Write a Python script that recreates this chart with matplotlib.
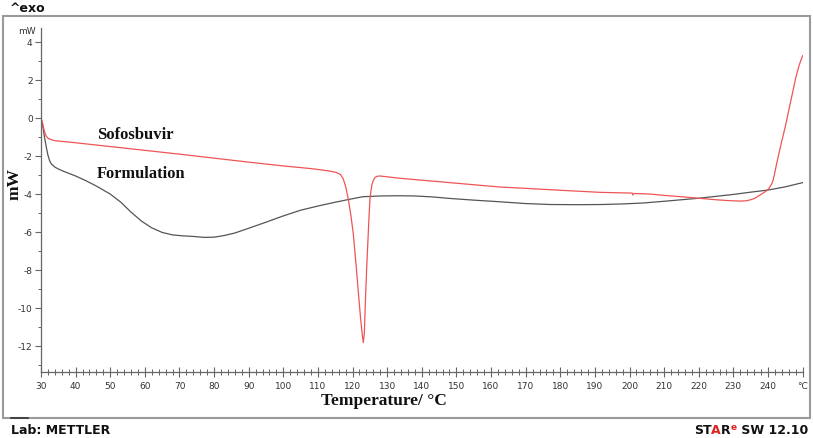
import matplotlib
matplotlib.use("Agg")
import matplotlib.pyplot as plt
from matplotlib.patches import Rectangle
from matplotlib.lines import Line2D
from matplotlib.ticker import MultipleLocator, FixedLocator, FixedFormatter

plt.rcParams['axes.unicode_minus'] = False

# ---- data ----
sofos_T = [30.0, 30.5, 31.0, 31.5, 32.0, 33.0, 34.0, 40, 50, 60, 70, 80, 90, 100, 108,
           111, 113, 114.5, 115.5, 116.5, 117.3, 118.0, 118.8, 119.5, 120.2, 121.0, 121.7,
           122.3, 122.8, 123.1, 123.4, 123.8, 124.1, 124.4, 124.7, 125.0, 125.3, 125.6,
           126.0, 126.5, 127.2, 128.0, 133.7, 140, 150, 162.6, 170, 180, 191.5, 200.8,
           201.0, 201.3, 205.9, 210, 215, 220.5, 225, 229, 232, 234, 236, 238, 239, 240,
           241, 241.5, 242, 242.5, 243, 243.5, 244, 245, 246, 247, 248, 249, 250]
sofos_v = [0.0, -0.3, -0.72, -0.95, -1.06, -1.14, -1.19, -1.3, -1.5, -1.7, -1.9, -2.11, -2.32,
           -2.52, -2.66, -2.73, -2.78, -2.83, -2.88, -2.97, -3.2, -3.6, -4.3, -5.1, -6.07,
           -7.7, -9.23, -10.5, -11.4, -11.82, -11.3, -9.2, -7.8, -6.6, -5.4, -4.3, -3.85,
           -3.5, -3.28, -3.12, -3.06, -3.05, -3.17, -3.27, -3.43, -3.63, -3.7, -3.8, -3.91,
           -3.95, -4.05, -3.97, -4.0, -4.07, -4.14, -4.23, -4.3, -4.35, -4.37, -4.35, -4.24,
           -4.02, -3.9, -3.77, -3.5, -3.26, -2.85, -2.4, -2.0, -1.6, -1.2, -0.45, 0.4, 1.25,
           2.1, 2.78, 3.28]

form_T = [30.0, 30.5, 31.0, 31.5, 32.0, 32.5, 33.0, 34.0, 35.0, 36.5, 40, 43, 46, 50, 53, 56,
          59, 62, 65, 68, 71, 74, 77, 80, 83, 86, 90, 95, 100, 105, 110, 115, 119, 123, 128,
          133, 138, 143, 148, 155, 162, 170, 177, 185, 192, 198, 204, 210, 215, 220, 225, 230,
          235, 240, 245, 250]
form_v = [0.0, -0.4, -1.0, -1.5, -1.95, -2.25, -2.42, -2.58, -2.68, -2.8, -3.05, -3.3, -3.58,
          -4.0, -4.42, -4.95, -5.42, -5.78, -6.02, -6.15, -6.2, -6.23, -6.28, -6.27, -6.18,
          -6.05, -5.8, -5.48, -5.15, -4.85, -4.63, -4.43, -4.28, -4.14, -4.1, -4.09, -4.1,
          -4.15, -4.23, -4.32, -4.4, -4.5, -4.55, -4.56, -4.55, -4.52, -4.47, -4.38, -4.3,
          -4.22, -4.12, -4.02, -3.9, -3.79, -3.62, -3.4]

x_major = [30, 40, 50, 60, 70, 80, 90, 100, 110, 120, 130, 140, 150, 160, 170, 180, 190,
           200, 210, 220, 230, 240, 250]
x_labels = ['30', '40', '50', '60', '70', '80', '90', '100', '110', '120', '130', '140',
            '150', '160', '170', '180', '190', '200', '210', '220', '230', '240', '°C']
y_major = [-12, -10, -8, -6, -4, -2, 0, 2, 4]

# ---- figure ----
W, H = 813, 438
fig = plt.figure(figsize=(W / 100, H / 100), dpi=100)

def fx(px):
    return px / W

def fy(py):
    return 1 - py / H

# outer frame
fig.patches.append(Rectangle((fx(3), fy(418)), fx(810) - fx(3), fy(16) - fy(418),
                             transform=fig.transFigure, fill=False, edgecolor='#9a9a9a',
                             linewidth=1.5))
fig.lines.append(Line2D([fx(11), fx(28)], [fy(417.5), fy(417.5)], transform=fig.transFigure,
                        color='#333333', linewidth=1.2))

ax_l, ax_r, ax_t, ax_b = 41, 802.6, 28, 371.7
ax = fig.add_axes([fx(ax_l), fy(ax_b), fx(ax_r) - fx(ax_l), fy(ax_t) - fy(ax_b)])
ax.set_xlim(30, 250)
ax.set_ylim(-13.35, 4.74)
ax.patch.set_alpha(0)

ax.plot(form_T, form_v, color='#555555', linewidth=0.9)
ax.plot(sofos_T, sofos_v, color='#ee5555', linewidth=0.9)

for s in ['top', 'right']:
    ax.spines[s].set_visible(False)
for s in ['left', 'bottom']:
    ax.spines[s].set_color('#666666')
    ax.spines[s].set_linewidth(0.9)

ax.xaxis.set_major_locator(FixedLocator(x_major))
ax.xaxis.set_major_formatter(FixedFormatter(x_labels))
ax.xaxis.set_minor_locator(MultipleLocator(2))
ax.yaxis.set_major_locator(FixedLocator(y_major))
ax.yaxis.set_minor_locator(MultipleLocator(1))

ax.tick_params(axis='x', which='major', direction='inout', length=7, width=0.8,
               color='#666666', labelsize=6.5, labelcolor='#333333', pad=4)
ax.tick_params(axis='x', which='minor', direction='inout', length=4, width=0.7,
               color='#666666')
ax.tick_params(axis='y', which='major', direction='out', length=4, width=0.8,
               color='#666666', labelsize=6.5, labelcolor='#333333', pad=2)
ax.tick_params(axis='y', which='minor', direction='out', length=2.5, width=0.7,
               color='#666666')
for t in ax.get_xticklabels() + ax.get_yticklabels():
    t.set_family('DejaVu Sans')

# texts
serif = ['Liberation Serif', 'DejaVu Serif']
fig.text(fx(97), fy(139), 'Sofosbuvir', family=serif, fontweight='bold', fontsize=12,
         ha='left', va='baseline', color='#111111')
fig.text(fx(97), fy(177.5), 'Formulation', family=serif, fontweight='bold', fontsize=11.8,
         ha='left', va='baseline', color='#111111')
fig.text(fx(384), fy(401), 'Temperature/ °C', family=serif, fontweight='bold',
         fontsize=12.5, ha='center', va='center', color='#111111')
fig.text(fx(15), fy(184), 'mW', family=serif, fontweight='bold', fontsize=12.5,
         ha='center', va='center', rotation=90, color='#111111')
fig.text(fx(27), fy(32), 'mW', family='DejaVu Sans', fontsize=6.5, ha='center',
         va='center', color='#333333')
fig.text(fx(10), fy(8), '^exo', family='DejaVu Sans', fontweight='bold', fontsize=9,
         ha='left', va='center', color='#111111')
fig.text(fx(11), fy(431), 'Lab: METTLER', family='DejaVu Sans', fontweight='bold',
         fontsize=9, ha='left', va='center', color='#111111')

# STARe SW 12.10 (right aligned, with red A and red superscript e)
renderer = fig.canvas.get_renderer()
x_right = 808
parts = [(' SW 12.10', '#111111', 9, 431), ('e', '#dd2222', 6.5, 427), ('R', '#111111', 9, 431),
         ('A', '#dd2222', 9, 431), ('ST', '#111111', 9, 431)]
cur = x_right
for txt, col, fs, yy in parts:
    t = fig.text(fx(cur), fy(yy), txt, family='DejaVu Sans', fontweight='bold', fontsize=fs,
                 ha='right', va='center', color=col)
    bb = t.get_window_extent(renderer=renderer)
    cur -= bb.width

fig.savefig('out.png', dpi=100)
